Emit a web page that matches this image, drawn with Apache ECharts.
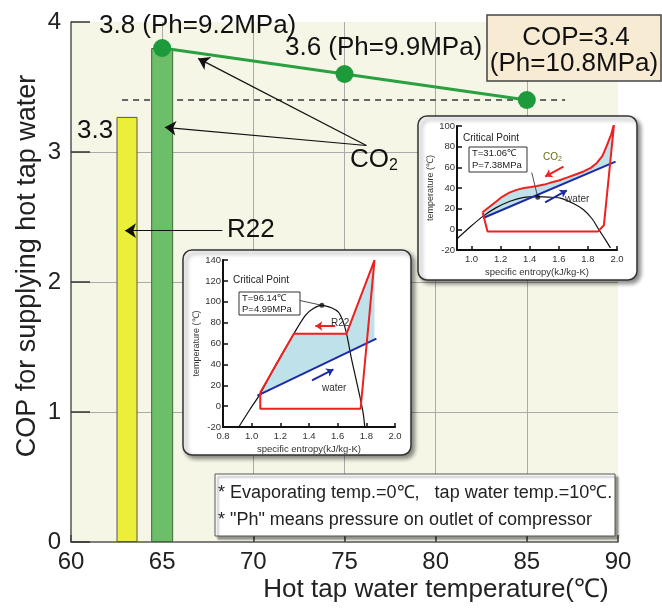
<!DOCTYPE html>
<html>
<head>
<meta charset="utf-8">
<script src="https://cdn.jsdelivr.net/npm/echarts@6/dist/echarts.min.js"></script>
<style>
  html, body { margin: 0; padding: 0; background: #fff; }
  #chart { width: 662px; height: 608px; }
</style>
</head>
<body>
<div id="chart"></div>
<script>
// ---- main chart data ----
const r22Temp = [63.1];
const r22Cop = [3.27];
const co2BarTemp = [65];
const co2BarCop = [3.8];
const co2Temps = [65, 75, 85];
const co2Cop = [3.8, 3.6, 3.4];
const refLine = [[62.8, 3.4], [87.1, 3.4]];
const mainArrows = [
  [[76.2, 3.05], [66.97, 3.72]],
  [[76.2, 3.05], [65.15, 3.19]],
  [[68.3, 2.395], [62.96, 2.395]]
];

// ---- CO2 inset (specific entropy, temperature) ----
const co2Dome = [[0.897, -9.6], [0.98, 1], [1.08, 12.8], [1.17, 21], [1.264, 27.2], [1.36, 31], [1.455, 31.6],
  [1.53, 31.2], [1.61, 30.2], [1.70, 25], [1.77, 19], [1.83, 10], [1.874, 0], [1.92, -10], [1.955, -18]];
const co2Cycle = [[1.076, 16.6], [1.11, -2], [1.87, -2], [1.91, 4], [1.98, 102], [1.96, 92], [1.93, 81],
  [1.90, 71], [1.86, 64], [1.82, 59.5], [1.77, 56], [1.71, 52.8], [1.655, 50], [1.60, 47.3], [1.54, 45],
  [1.50, 43.3], [1.45, 42], [1.41, 41], [1.36, 40], [1.31, 38.2], [1.26, 35.5], [1.21, 31.5], [1.17, 27],
  [1.13, 22.5], [1.076, 16.6]];
const co2Fill = [[1.076, 16.6], [1.13, 22.5], [1.17, 27], [1.21, 31.5], [1.26, 35.5], [1.31, 38.2], [1.36, 40],
  [1.41, 41], [1.45, 42], [1.50, 43.3], [1.54, 45], [1.60, 47.3], [1.655, 50], [1.71, 52.8], [1.77, 56],
  [1.82, 59.5], [1.86, 64], [1.90, 71], [1.93, 81], [1.96, 92], [1.98, 102], [1.952, 63.1], [1.08, 11]];
const co2Water = [[1.08, 11], [1.99, 65.5]];
const co2Critical = [[1.455, 31.1]];
const co2Leader = [[[1.414, 55], [1.455, 31.1]]];
const co2Arrows = { red: [[[1.632, 60.7], [1.506, 51.1]]], blue: [[[1.506, 26.2], [1.655, 37.7]]] };
const co2Ticks = [1.0, 1.2, 1.4, 1.6, 1.8, 2.0];

// ---- R22 inset ----
const r22Dome = [[0.91, -20], [0.984, -4], [1.06, 12], [1.17, 40], [1.294, 69.4], [1.375, 87], [1.43, 93.5],
  [1.49, 96.6], [1.56, 94], [1.605, 90], [1.635, 82], [1.662, 69.4], [1.697, 45], [1.743, 16.6], [1.777, -6], [1.789, -20]];
const r22Cycle = [[1.06, 13], [1.294, 69.4], [1.662, 69.4], [1.857, 139.8], [1.76, -2.5], [1.06, -2.5], [1.06, 13]];
const r22Fill = [[1.06, 13], [1.294, 69.4], [1.662, 69.4], [1.857, 139.8], [1.857, 63.8], [1.04, 10]];
const r22Water = [[1.04, 10], [1.87, 64.6]];
const r22Critical = [[1.49, 96.6]];
const r22Leader = [[[1.329, 101.4], [1.49, 96.6]]];
const r22Arrows = { red: [[[1.582, 76.8], [1.444, 76.8]]], blue: [[[1.421, 24.6], [1.57, 35.2]]] };
const r22Ticks = [0.8, 1.0, 1.2, 1.4, 1.6, 1.8, 2.0];

const zip = (xs, ys) => xs.map((x, i) => [x, ys[i]]);
const FONT = '"Liberation Sans", Arial, sans-serif';

const RED = '#ee2020';
const BLUE = '#1c2aa6';
const FILL = '#bfe2ea';

function insetAxes(gi, xmin, xmax, ticks, ymin, ymax) {
  const x = {
    gridIndex: gi, type: 'value', min: xmin, max: xmax, z: 5,
    axisLine: { show: true, onZero: false, lineStyle: { color: '#111', width: 2 } },
    axisTick: { show: true, inside: true, length: 4, customValues: ticks, lineStyle: { color: '#111', width: 1.5 } },
    axisLabel: { customValues: ticks, formatter: v => v.toFixed(1), fontSize: 9.5, color: '#333', margin: 4 },
    splitLine: { show: false },
    name: 'specific entropy(kJ/kg-K)', nameLocation: 'middle', nameGap: 17,
    nameTextStyle: { fontSize: 9.5, color: '#333' }
  };
  const y = {
    gridIndex: gi, type: 'value', min: ymin, max: ymax, interval: 20, z: 5,
    axisLine: { show: true, onZero: false, lineStyle: { color: '#111', width: 2 } },
    axisTick: { show: true, inside: true, length: 5, lineStyle: { color: '#111', width: 1.5 } },
    axisLabel: { fontSize: 9.5, color: '#333', margin: 2 },
    splitLine: { show: false },
    name: 'temperature (\u2103)', nameLocation: 'middle', nameGap: 20,
    nameTextStyle: { fontSize: 9, color: '#333' }
  };
  return [x, y];
}

function polySeries(gi, pts, z) {
  return {
    type: 'custom', xAxisIndex: gi, yAxisIndex: gi, z: z, silent: true,
    data: [pts[0]],
    renderItem: (params, api) => ({
      type: 'polygon',
      shape: { points: pts.map(p => api.coord(p)) },
      style: { fill: FILL }
    })
  };
}

function lineSeries(gi, pts, color, width, z, smooth) {
  return {
    type: 'line', xAxisIndex: gi, yAxisIndex: gi, z: z, data: pts, smooth: smooth || false,
    showSymbol: false, lineStyle: { color: color, width: width }, silent: true
  };
}

function arrowSeries(gi, segs, color, width, z, size) {
  return {
    type: 'lines', coordinateSystem: 'cartesian2d', xAxisIndex: gi, yAxisIndex: gi, z: z,
    symbol: ['none', 'arrow'], symbolSize: size,
    lineStyle: { color: color, width: width, opacity: 1 },
    data: segs.map(s => ({ coords: s })), silent: true
  };
}

function leaderSeries(gi, segs, z) {
  return {
    type: 'lines', coordinateSystem: 'cartesian2d', xAxisIndex: gi, yAxisIndex: gi, z: z,
    lineStyle: { color: '#222', width: 0.8, opacity: 1 },
    data: segs.map(s => ({ coords: s })), silent: true
  };
}

const co2Ax = insetAxes(1, 0.9, 2.0, co2Ticks, -20, 100);
const r22Ax = insetAxes(2, 0.8, 2.0, r22Ticks, -20, 140);

const big = '26px ' + FONT;

const chart = echarts.init(document.getElementById('chart'));
chart.setOption({
  animation: false,
  textStyle: { fontFamily: FONT },
  grid: [
    { left: 71, right: 44, top: 22, bottom: 66, show: true, backgroundColor: '#f6f6e7', borderWidth: 0 },
    { left: 457, right: 45, top: 126, bottom: 358 },
    { left: 223, right: 267, top: 260, bottom: 181 }
  ],
  xAxis: [
    {
      gridIndex: 0, type: 'value', min: 60, max: 90, interval: 5,
      axisLine: { onZero: false, lineStyle: { color: '#555', width: 1.5 } },
      axisTick: { inside: true, length: 7, lineStyle: { color: '#444', width: 1.5 } },
      axisLabel: { fontSize: 24, color: '#222', margin: 8 },
      splitLine: { show: true, showMinLine: false, showMaxLine: false, lineStyle: { color: '#aaa', width: 1 } }
    },
    co2Ax[0], r22Ax[0]
  ],
  yAxis: [
    {
      gridIndex: 0, type: 'value', min: 0, max: 4, interval: 1,
      axisLine: { show: true, onZero: false, lineStyle: { color: '#555', width: 1.5 } },
      axisTick: { show: true, inside: true, length: 19, lineStyle: { color: '#333', width: 1.5 } },
      axisLabel: { fontSize: 24, color: '#222', margin: 10 },
      splitLine: { show: true, showMinLine: false, showMaxLine: false, lineStyle: { color: '#aaa', width: 1 } }
    },
    co2Ax[1], r22Ax[1]
  ],
  graphic: [
    // inset frames
    { type: 'rect', z: 1, shape: { x: 418, y: 116, width: 219, height: 164, r: 9 },
      style: { fill: '#fff', stroke: '#333', lineWidth: 1.5, shadowBlur: 4, shadowOffsetX: 3, shadowOffsetY: 3, shadowColor: 'rgba(0,0,0,0.45)' } },
    { type: 'rect', z: 1, shape: { x: 183, y: 250, width: 228, height: 205, r: 9 },
      style: { fill: '#fff', stroke: '#333', lineWidth: 1.5, shadowBlur: 4, shadowOffsetX: 3, shadowOffsetY: 3, shadowColor: 'rgba(0,0,0,0.45)' } },
    // note box
    { type: 'rect', z: 1, shape: { x: 215, y: 474, width: 400, height: 62 },
      style: { fill: '#fff', stroke: '#555', lineWidth: 1, shadowBlur: 2, shadowOffsetX: 3, shadowOffsetY: 3, shadowColor: 'rgba(0,0,0,0.4)' } },
    { type: 'text', z: 20, x: 218, y: 493,
      style: { text: '* Evaporating temp.=0\u2103,   tap water temp.=10\u2103.', font: '18px ' + FONT, fill: '#222', verticalAlign: 'middle' } },
    { type: 'text', z: 20, x: 218, y: 520,
      style: { text: '* "Ph" means pressure on outlet of compressor', font: '18px ' + FONT, fill: '#222', verticalAlign: 'middle' } },
    // axis title (y)
    { type: 'text', z: 20, x: 28, y: 266, rotation: Math.PI / 2,
      style: { text: 'COP for supplying hot tap water', font: '27px ' + FONT, fill: '#222', align: 'center', verticalAlign: 'middle' } },
    // COP box
    { type: 'rect', z: 10, shape: { x: 487, y: 15, width: 174, height: 66 },
      style: { fill: '#f7ebd3', stroke: '#444', lineWidth: 1.5 } },
    { type: 'text', z: 20, x: 576, y: 38,
      style: { text: 'COP=3.4', font: big, fill: '#111', align: 'center', verticalAlign: 'middle' } },
    { type: 'text', z: 20, x: 574, y: 64,
      style: { text: '(Ph=10.8MPa)', font: big, fill: '#111', align: 'center', verticalAlign: 'middle' } },
    // main annotations
    { type: 'text', z: 20, x: 99, y: 26,
      style: { text: '3.8 (Ph=9.2MPa)', font: big, fill: '#111', verticalAlign: 'middle' } },
    { type: 'text', z: 20, x: 285, y: 48,
      style: { text: '3.6 (Ph=9.9MPa)', font: big, fill: '#111', verticalAlign: 'middle' } },
    { type: 'text', z: 20, x: 77, y: 131,
      style: { text: '3.3', font: big, fill: '#111', verticalAlign: 'middle' } },
    { type: 'text', z: 20, x: 350, y: 160,
      style: { text: '{a|CO}{b|2}', verticalAlign: 'middle',
        rich: { a: { fontSize: 26, fill: '#111', fontFamily: FONT }, b: { fontSize: 16, fill: '#111', fontFamily: FONT, padding: [11, 0, 0, 0] } } } },
    { type: 'text', z: 20, x: 227, y: 230,
      style: { text: 'R22', font: big, fill: '#111', verticalAlign: 'middle' } },
    { type: 'text', z: 20, x: 436, y: 590,
      style: { text: 'Hot tap water temperature(\u2103)', font: '26px ' + FONT, fill: '#222', align: 'center', verticalAlign: 'middle' } },
    // CO2 inset texts
    { type: 'text', z: 20, x: 463, y: 138,
      style: { text: 'Critical Point', font: '10px ' + FONT, fill: '#222', verticalAlign: 'middle' } },
    { type: 'rect', z: 19, shape: { x: 469, y: 147, width: 58, height: 25 },
      style: { fill: '#fff', stroke: '#333', lineWidth: 1 } },
    { type: 'text', z: 20, x: 472, y: 153.5,
      style: { text: 'T=31.06\u2103', font: '9.5px ' + FONT, fill: '#222', verticalAlign: 'middle' } },
    { type: 'text', z: 20, x: 472, y: 165,
      style: { text: 'P=7.38MPa', font: '9.5px ' + FONT, fill: '#222', verticalAlign: 'middle' } },
    { type: 'text', z: 20, x: 543, y: 157,
      style: { text: '{a|CO}{b|2}', verticalAlign: 'middle',
        rich: { a: { fontSize: 10, fill: '#6b6b10', fontFamily: FONT }, b: { fontSize: 7, fill: '#6b6b10', fontFamily: FONT, padding: [4, 0, 0, 0] } } } },
    { type: 'text', z: 20, x: 565, y: 199,
      style: { text: 'water', font: '10px ' + FONT, fill: '#333', verticalAlign: 'middle' } },
    // R22 inset texts
    { type: 'text', z: 20, x: 233, y: 280,
      style: { text: 'Critical Point', font: '10px ' + FONT, fill: '#222', verticalAlign: 'middle' } },
    { type: 'rect', z: 19, shape: { x: 239, y: 292, width: 61, height: 23 },
      style: { fill: '#fff', stroke: '#333', lineWidth: 1 } },
    { type: 'text', z: 20, x: 242, y: 298,
      style: { text: 'T=96.14\u2103', font: '9.5px ' + FONT, fill: '#222', verticalAlign: 'middle' } },
    { type: 'text', z: 20, x: 242, y: 309,
      style: { text: 'P=4.99MPa', font: '9.5px ' + FONT, fill: '#222', verticalAlign: 'middle' } },
    { type: 'text', z: 20, x: 331, y: 323,
      style: { text: 'R22', font: '10px ' + FONT, fill: '#333', verticalAlign: 'middle' } },
    { type: 'text', z: 20, x: 322, y: 388,
      style: { text: 'water', font: '10px ' + FONT, fill: '#333', verticalAlign: 'middle' } }
  ],
  series: [
    // main chart
    {
      type: 'bar', xAxisIndex: 0, yAxisIndex: 0, z: 3, barWidth: 21, barGap: '-100%',
      data: zip(r22Temp, r22Cop),
      itemStyle: { color: '#ebef3a', borderColor: '#555', borderWidth: 1 }
    },
    {
      type: 'bar', xAxisIndex: 0, yAxisIndex: 0, z: 3, barWidth: 22, barGap: '-100%',
      data: zip(co2BarTemp, co2BarCop),
      itemStyle: { color: '#6cbf68', borderColor: '#3d6b3a', borderWidth: 1 }
    },
    {
      type: 'line', xAxisIndex: 0, yAxisIndex: 0, z: 4, data: zip(co2Temps, co2Cop),
      symbol: 'circle', symbolSize: 18, itemStyle: { color: '#1d9a3c' },
      lineStyle: { color: '#2aa040', width: 3 }
    },
    {
      type: 'lines', coordinateSystem: 'cartesian2d', xAxisIndex: 0, yAxisIndex: 0, z: 3,
      lineStyle: { color: '#666', width: 2, type: [6, 5], opacity: 1 },
      data: [{ coords: refLine }], silent: true
    },
    arrowSeries(0, mainArrows, '#111', 1.2, 5, 11),
    // CO2 inset
    polySeries(1, co2Fill, 6),
    lineSeries(1, co2Dome, '#111', 1.2, 7, 0.3),
    lineSeries(1, co2Water, BLUE, 2, 8),
    lineSeries(1, co2Cycle, RED, 2, 9),
    leaderSeries(1, co2Leader, 9),
    { type: 'scatter', xAxisIndex: 1, yAxisIndex: 1, z: 10, data: co2Critical, symbolSize: 5, itemStyle: { color: '#111' } },
    arrowSeries(1, co2Arrows.red, RED, 2, 10, 7),
    arrowSeries(1, co2Arrows.blue, BLUE, 2, 10, 7),
    // R22 inset
    polySeries(2, r22Fill, 6),
    lineSeries(2, r22Dome, '#111', 1.2, 7, 0.3),
    lineSeries(2, r22Water, BLUE, 2, 8),
    lineSeries(2, r22Cycle, RED, 2, 9),
    leaderSeries(2, r22Leader, 9),
    { type: 'scatter', xAxisIndex: 2, yAxisIndex: 2, z: 10, data: r22Critical, symbolSize: 5, itemStyle: { color: '#111' } },
    arrowSeries(2, r22Arrows.red, RED, 2, 10, 7),
    arrowSeries(2, r22Arrows.blue, BLUE, 2, 10, 7)
  ]
});
</script>
</body>
</html>
